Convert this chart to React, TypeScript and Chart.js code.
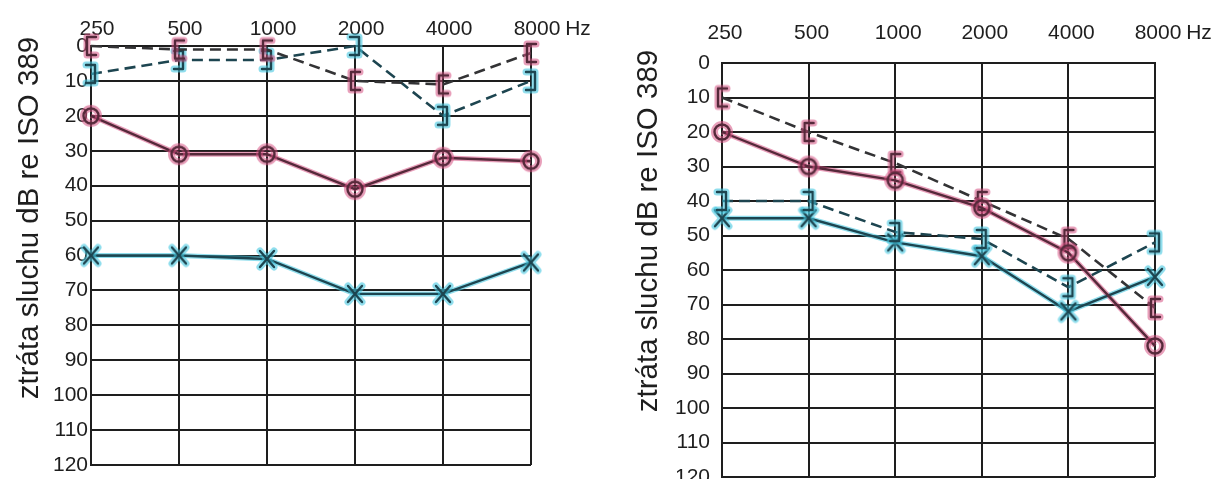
import React, { useEffect, useRef } from 'react';
import { Chart, registerables } from 'chart.js';

Chart.register(...registerables);

// ---------- data ----------
const frequencies = ['250', '500', '1000', '2000', '4000', '8000'];
const unitLabel = 'Hz';
const yTitle = 'ztráta sluchu dB re ISO 389';
const dbMin = 0;
const dbMax = 120;
const dbStep = 10;

// left audiogram
const leftPanelRedAir = [20, 31, 31, 41, 32, 33];
const leftPanelRedBone = [0, 1, 1, 10, 11, 2];
const leftPanelBlueBone = [8, 4, 4, 0, 20, 10];
const leftPanelBlueAir = [60, 60, 61, 71, 71, 62];

// right audiogram
const rightPanelRedAir = [20, 30, 34, 42, 55, 82];
const rightPanelRedBone = [10, 20, 29, 40, 51, 71];
const rightPanelBlueBone = [40, 40, 49, 51, 65, 52];
const rightPanelBlueAir = [45, 45, 52, 56, 72, 62];

// ---------- styles ----------
const FONT = '"Liberation Sans", Arial, sans-serif';
const INK = '#1e1e1e';
const RED_DARK = '#55293a';
const RED_GLOW = 'rgba(214, 80, 130, 0.55)';
const BLUE_DARK = '#1d4550';
const BLUE_GLOW = 'rgba(70, 200, 225, 0.6)';
const DASH_DARK = '#333335';

type Kind = 'circle' | 'x' | 'lbracket' | 'rbracket';

function makeMarker(kind: Kind, dark: string, glow: string): HTMLCanvasElement {
  const c = document.createElement('canvas');
  c.width = 30;
  c.height = 30;
  const ctx = c.getContext('2d')!;
  ctx.translate(15, 15);
  ctx.lineCap = 'round';
  ctx.lineJoin = 'round';
  const path = () => {
    ctx.beginPath();
    if (kind === 'circle') {
      ctx.arc(0, 0, 7.5, 0, Math.PI * 2);
    } else if (kind === 'x') {
      ctx.moveTo(-7, -8); ctx.lineTo(7, 8);
      ctx.moveTo(-7, 8); ctx.lineTo(7, -8);
    } else if (kind === 'lbracket') {
      ctx.moveTo(5, -9); ctx.lineTo(-4, -9); ctx.lineTo(-4, 9); ctx.lineTo(5, 9);
    } else {
      ctx.moveTo(-5, -9); ctx.lineTo(4, -9); ctx.lineTo(4, 9); ctx.lineTo(-5, 9);
    }
  };
  path();
  ctx.strokeStyle = glow;
  ctx.lineWidth = 7;
  ctx.stroke();
  path();
  ctx.strokeStyle = dark;
  ctx.lineWidth = 2.4;
  ctx.stroke();
  return c;
}

type Geom = {
  canvasLeft: number;
  width: number;
  yAxisWidth: number;
  xAxisHeight: number;
  padRight: number;
  padBottom: number;
  yTickPad: number;
  xTickPad: number;
  xLabelOffset: number;
  hzDx: number;
  titleBaselineX: number;
  titleCenterY: number;
};

const HEIGHT = 479;

const leftGeom: Geom = {
  canvasLeft: 0, width: 606, yAxisWidth: 91, xAxisHeight: 46,
  padRight: 75, padBottom: 14, yTickPad: 3, xTickPad: 4, xLabelOffset: 6, hzDx: 47,
  titleBaselineX: 38, titleCenterY: 218,
};
const rightGeom: Geom = {
  canvasLeft: 606, width: 607, yAxisWidth: 116, xAxisHeight: 63,
  padRight: 58, padBottom: 2, yTickPad: 12, xTickPad: 17, xLabelOffset: 3, hzDx: 44,
  titleBaselineX: 51, titleCenterY: 231,
};

const extraTextPlugin = {
  id: 'extraText',
  afterDraw(chart: any, _args: any, opts: any) {
    const { ctx, chartArea } = chart;
    const xs = chart.scales.x;
    ctx.save();
    ctx.font = `21px ${FONT}`;
    ctx.fillStyle = INK;
    ctx.textAlign = 'center';
    ctx.textBaseline = 'middle';
    ctx.fillText(opts.unit, chartArea.right + opts.dx, xs.bottom - opts.pad - 12.6);
    ctx.restore();

    ctx.save();
    ctx.translate(opts.titleX, opts.titleY);
    ctx.rotate(-Math.PI / 2);
    ctx.font = `29.5px ${FONT}`;
    ctx.fillStyle = INK;
    ctx.textAlign = 'center';
    ctx.textBaseline = 'alphabetic';
    ctx.fillText(opts.title, 0, 0);
    ctx.restore();
  },
};

function buildChart(
  canvas: HTMLCanvasElement,
  redAir: number[], redBone: number[], blueBone: number[], blueAir: number[],
  g: Geom,
) {
  const circle = makeMarker('circle', RED_DARK, RED_GLOW);
  const lb = makeMarker('lbracket', RED_DARK, RED_GLOW);
  const rb = makeMarker('rbracket', BLUE_DARK, BLUE_GLOW);
  const cross = makeMarker('x', BLUE_DARK, BLUE_GLOW);
  const base = { clip: false as any, fill: false, tension: 0 };
  return new Chart(canvas, {
    type: 'line',
    data: {
      labels: frequencies,
      datasets: [
        { ...base, data: redAir, borderColor: RED_DARK, borderWidth: 2.4, pointStyle: circle as any, pointRadius: 8, order: 0 },
        { ...base, data: redBone, borderColor: DASH_DARK, borderWidth: 2.6, borderDash: [11, 6], pointStyle: lb as any, pointRadius: 8, order: 1 },
        { ...base, data: blueBone, borderColor: BLUE_DARK, borderWidth: 2.6, borderDash: [11, 6], pointStyle: rb as any, pointRadius: 8, order: 2 },
        { ...base, data: blueAir, borderColor: BLUE_DARK, borderWidth: 2.4, pointStyle: cross as any, pointRadius: 8, order: 3 },
        { ...base, data: redAir, borderColor: RED_GLOW, borderWidth: 5, pointRadius: 0, order: 10 },
        { ...base, data: blueAir, borderColor: BLUE_GLOW, borderWidth: 5, pointRadius: 0, order: 11 },
      ],
    },
    options: {
      responsive: false,
      animation: false,
      devicePixelRatio: 1,
      layout: { autoPadding: false, padding: { left: 0, right: g.padRight, top: 0, bottom: g.padBottom } },
      plugins: {
        legend: { display: false },
        tooltip: { enabled: false },
        extraText: {
          unit: unitLabel, dx: g.hzDx, pad: g.xTickPad,
          title: yTitle, titleX: g.titleBaselineX, titleY: g.titleCenterY,
        },
      } as any,
      scales: {
        x: {
          type: 'category',
          position: 'top',
          offset: false,
          grid: { color: INK, lineWidth: 2, drawTicks: false },
          border: { color: INK, width: 2 },
          ticks: {
            color: INK, font: { family: FONT, size: 21 }, padding: g.xTickPad,
            labelOffset: g.xLabelOffset, maxRotation: 0, autoSkip: false,
          },
          afterFit: (s: any) => { s.height = g.xAxisHeight; },
        },
        y: {
          type: 'linear',
          reverse: true,
          min: dbMin,
          max: dbMax,
          grid: { color: INK, lineWidth: 2, drawTicks: false },
          border: { color: INK, width: 2 },
          ticks: { stepSize: dbStep, color: INK, font: { family: FONT, size: 21 }, padding: g.yTickPad },
          afterFit: (s: any) => {
            s.width = g.yAxisWidth;
            s.paddingTop = 0;
            s.paddingBottom = 0;
          },
        },
      },
    } as any,
    plugins: [extraTextPlugin],
  });
}

export default function App() {
  const leftRef = useRef<HTMLCanvasElement>(null);
  const rightRef = useRef<HTMLCanvasElement>(null);
  useEffect(() => {
    const a = buildChart(leftRef.current!, leftPanelRedAir, leftPanelRedBone, leftPanelBlueBone, leftPanelBlueAir, leftGeom);
    const b = buildChart(rightRef.current!, rightPanelRedAir, rightPanelRedBone, rightPanelBlueBone, rightPanelBlueAir, rightGeom);
    return () => { a.destroy(); b.destroy(); };
  }, []);
  return (
    <div style={{ position: 'fixed', left: 0, top: 0, width: 1213, height: HEIGHT, background: '#fff', overflow: 'hidden' }}>
      <canvas ref={leftRef} width={leftGeom.width} height={HEIGHT}
        style={{ position: 'absolute', left: leftGeom.canvasLeft, top: 0, width: leftGeom.width, height: HEIGHT }} />
      <canvas ref={rightRef} width={rightGeom.width} height={HEIGHT}
        style={{ position: 'absolute', left: rightGeom.canvasLeft, top: 0, width: rightGeom.width, height: HEIGHT }} />
    </div>
  );
}
